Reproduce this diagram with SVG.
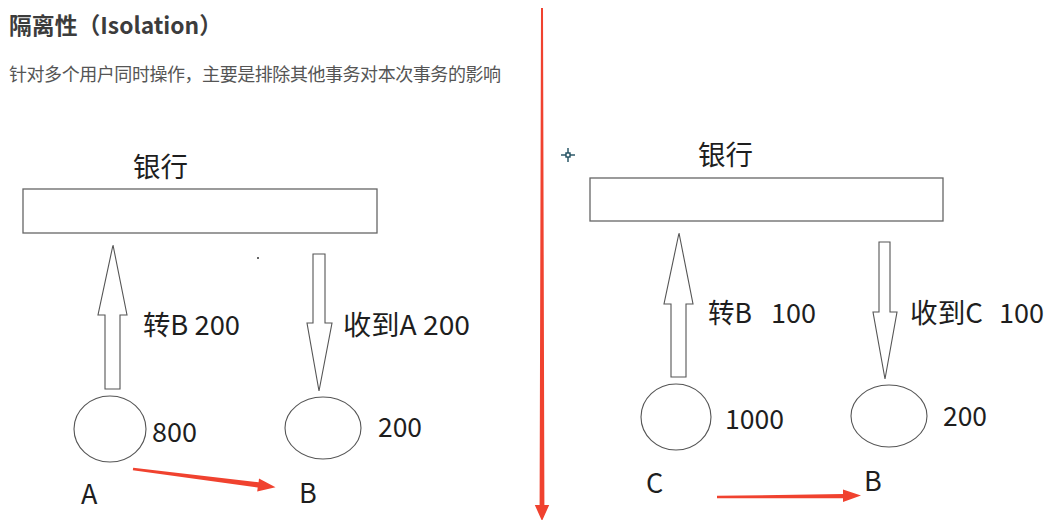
<svg xmlns="http://www.w3.org/2000/svg" width="1054" height="520" viewBox="0 0 1054 520">
<style>
text{font-family:"Noto Sans CJK SC","Noto Sans",sans-serif;fill:#1e1e1e}
.lbl{font-size:27px}
.box{fill:#fff;stroke:#666;stroke-width:1.3}
.acct{fill:#fff;stroke:#555;stroke-width:1.1}
.blk{fill:#fff;stroke:#555;stroke-width:1.1;stroke-linejoin:miter}
.red{fill:#f0422f;stroke:none}
</style>
<rect width="1054" height="520" fill="#fff"/>
<g id="header">
<text x="9" y="34" font-size="23" font-weight="bold" textLength="213" lengthAdjust="spacingAndGlyphs" style="fill:#3c3c3c">隔离性（Isolation）</text>
<text x="9" y="81" font-size="18" textLength="492" style="fill:#555">针对多个用户同时操作，主要是排除其他事务对本次事务的影响</text>
</g>
<g id="bank-left">
<text class="lbl" x="133" y="177" textLength="55" lengthAdjust="spacingAndGlyphs">银行</text>
<rect class="box" x="23" y="189" width="354" height="44"/>
</g>
<g id="account-A">
<ellipse class="acct" cx="110" cy="429" rx="36" ry="33"/>
<text class="lbl" x="152" y="442" textLength="45" lengthAdjust="spacingAndGlyphs">800</text>
<text class="lbl" x="81" y="504">A</text>
</g>
<g id="account-B-left">
<ellipse class="acct" cx="323" cy="428" rx="38" ry="31"/>
<text class="lbl" x="378" y="437" textLength="44" lengthAdjust="spacingAndGlyphs">200</text>
<text class="lbl" x="299" y="503">B</text>
</g>
<g id="bank-right">
<text class="lbl" x="698" y="165" textLength="55" lengthAdjust="spacingAndGlyphs">银行</text>
<rect class="box" x="590" y="178" width="353" height="43"/>
</g>
<g id="account-C">
<ellipse class="acct" cx="676" cy="417" rx="35" ry="33"/>
<text class="lbl" x="725" y="429" textLength="59" lengthAdjust="spacingAndGlyphs">1000</text>
<text class="lbl" x="646" y="493">C</text>
</g>
<g id="account-B-right">
<ellipse class="acct" cx="889" cy="416" rx="38" ry="31"/>
<text class="lbl" x="943" y="426" textLength="44" lengthAdjust="spacingAndGlyphs">200</text>
<text class="lbl" x="864" y="491">B</text>
</g>
<g id="connectors">
<polygon class="blk" points="105,389 105,315 98,315 113,245 127,315 120,315 120,389"/>
<text class="lbl" x="143" y="335" textLength="97" lengthAdjust="spacingAndGlyphs">转B 200</text>
<polygon class="blk" points="313,254 325,254 325,323 332,323 319,391 307,323 313,323"/>
<text class="lbl" x="343" y="335" textLength="127" lengthAdjust="spacingAndGlyphs">收到A 200</text>
<polygon class="blk" points="671,377 671,304 664,304 679,233 693,304 686,304 686,377"/>
<text class="lbl" x="708" y="323"><tspan textLength="44" lengthAdjust="spacingAndGlyphs">转B</tspan><tspan x="771" textLength="45" lengthAdjust="spacingAndGlyphs">100</tspan></text>
<polygon class="blk" points="879,242 890,242 890,312 897,312 885,379 873,312 879,312"/>
<text class="lbl" x="910" y="323"><tspan textLength="73" lengthAdjust="spacingAndGlyphs">收到C</tspan><tspan x="999" textLength="45" lengthAdjust="spacingAndGlyphs">100</tspan></text>
<polygon class="red" points="133.2,467.8 258.6,482.2 259,478.6 275.5,487.2 257.2,491.4 257.7,487.4 132.8,470.2"/>
<polygon class="red" points="717,495.8 843,494 843,489.5 861,495.6 843,502 843,498.3 717,498.2"/>
<polygon class="red" points="541,8 543,8 544.4,505 549.2,505 542,521 534.8,505 539.6,505"/>
</g>
<g id="marks">
<circle cx="258" cy="258" r="1" fill="#333"/>
<g stroke="#1e4d5e" stroke-width="1.4" fill="none">
<line x1="561" y1="155" x2="566" y2="155"/><line x1="570" y1="155" x2="575" y2="155"/>
<line x1="568" y1="148" x2="568" y2="153"/><line x1="568" y1="157" x2="568" y2="162"/>
<rect x="566" y="153" width="4" height="4"/>
</g>
</g>
</svg>
